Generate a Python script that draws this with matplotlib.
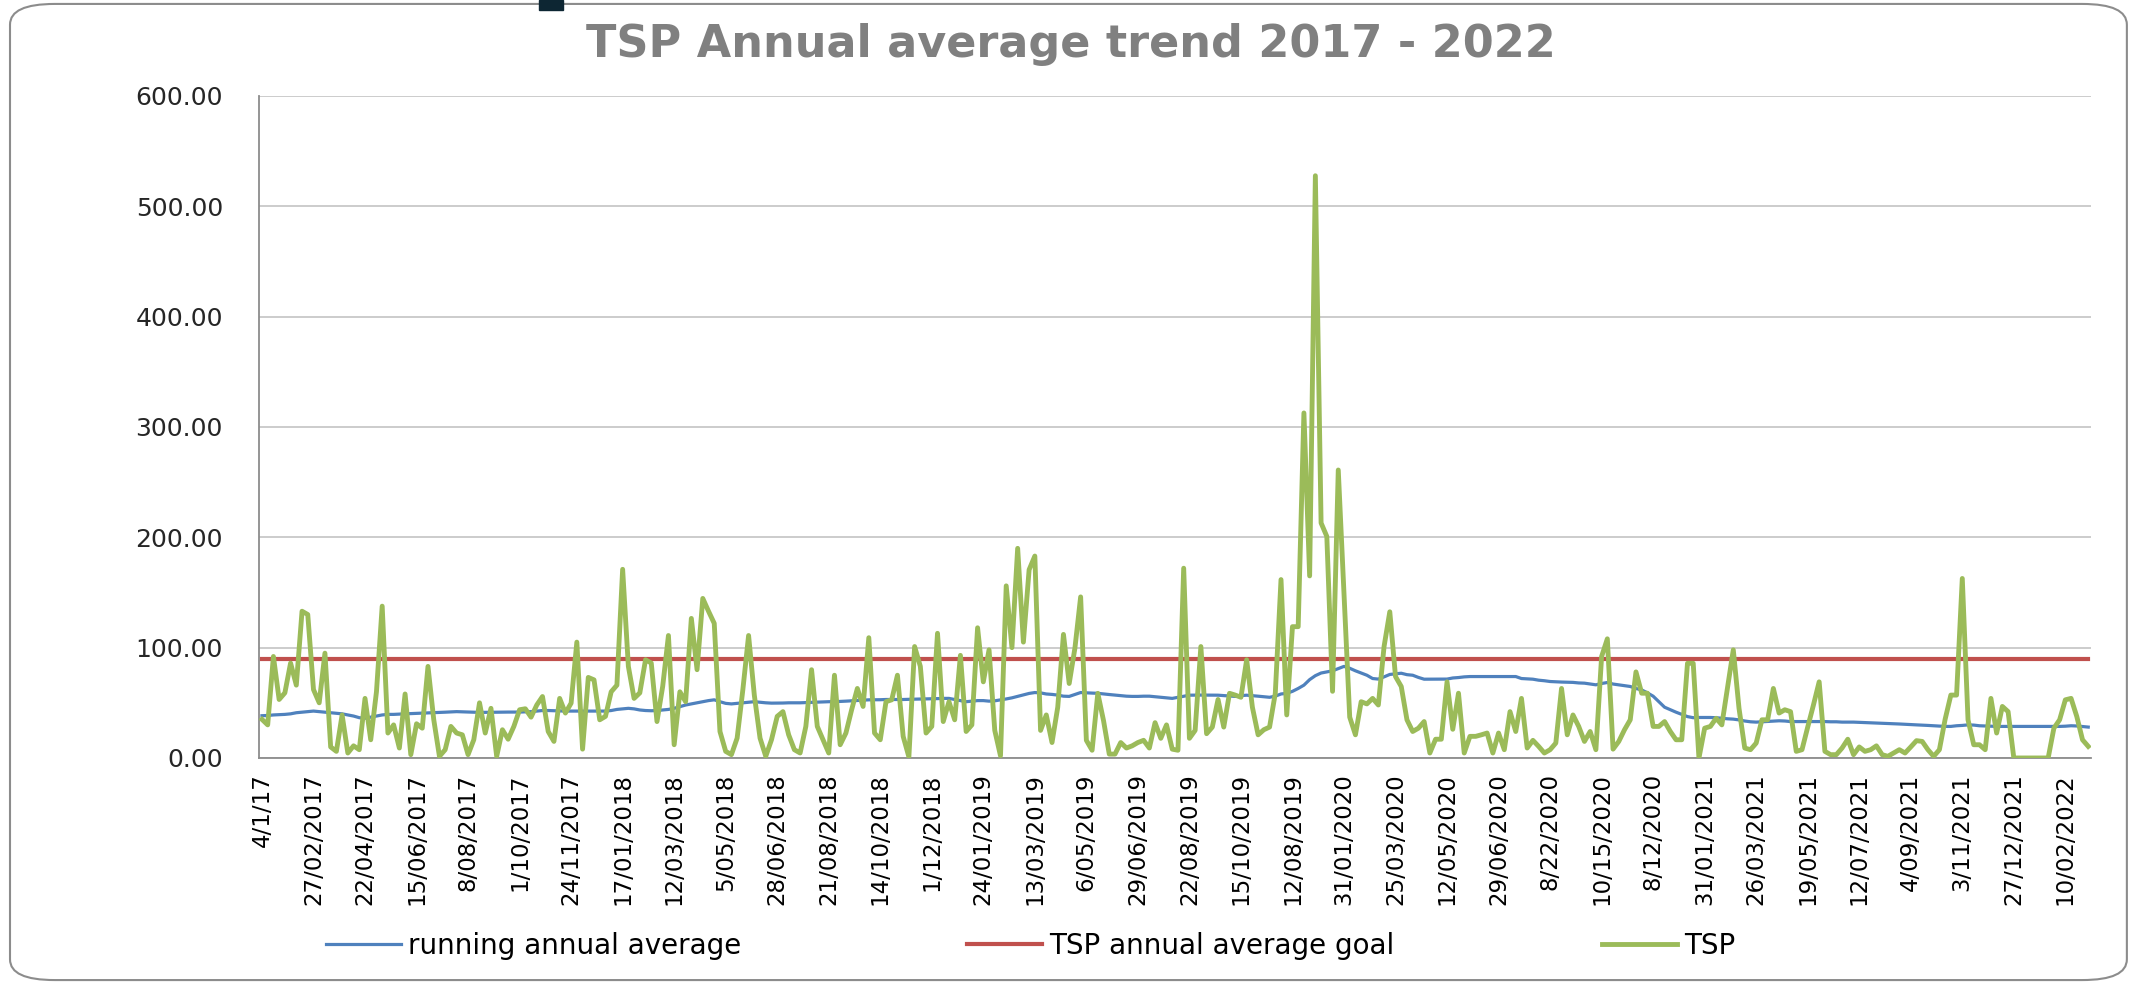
import matplotlib
matplotlib.use("Agg")
import matplotlib.pyplot as plt
from matplotlib import font_manager
from matplotlib.patches import FancyBboxPatch, Rectangle

# TSP readings (one every 6 days)
tsp = [
    35, 30, 92, 53, 59, 86, 66, 133, 130, 62,
    50, 95, 10, 6, 39, 4.5, 11, 7.5, 54, 16.5,
    60, 137.6, 22.6, 30, 9, 58, 3, 31, 27, 83,
    35, 1.5, 7.5, 28.6, 22.6, 21, 3, 16.5, 50, 22.6,
    45, 1.5, 25.6, 17, 28.6, 43.7, 44.6, 37, 48, 55.7,
    24, 15, 54, 40.7, 49.7, 105, 8, 73, 70.8, 34.6,
    37.7, 60, 66, 171, 83, 54, 59, 89, 86, 33,
    65, 111, 12, 60, 51, 126.5, 80, 144.6, 133, 122,
    24, 6, 3, 18, 62, 111, 57, 18, 1.5, 16.5,
    37.7, 42, 21, 7.5, 4.5, 28.6, 80, 28.6, 16.5, 4.5,
    75, 12, 22.6, 43.7, 63, 46.7, 109, 22.6, 16.5, 51,
    52.7, 75, 19.6, 1, 101, 83, 22.6, 28.6, 113, 33,
    51, 34.6, 93, 24, 30, 118, 69, 98, 25, 2,
    156, 100, 190, 105, 170.6, 183, 25, 39, 14, 46,
    112, 67.5, 99.5, 146, 16, 7, 58.6, 33.8, 3.5, 3.5,
    14, 9, 11, 14, 16, 9, 32, 17.8, 30, 8,
    7, 172, 17.8, 25, 101, 22, 28, 53, 28, 58.6,
    57, 55, 89, 46, 21, 25.6, 28, 58.6, 161.7, 39,
    119, 119, 312.7, 165, 527.7, 213, 200.8, 60.4, 261, 150,
    37, 21, 51, 49, 54, 48, 101, 132.5, 73.8, 64.8,
    34.6, 24, 27, 33, 4.5, 17, 17, 69, 26, 58.7,
    4.5, 19.6, 19.6, 21, 22.6, 4.5, 22.6, 7.5, 42, 24,
    54, 9, 16, 10.5, 4.5, 7.5, 13.5, 63, 21, 39,
    28.6, 15, 24, 7.5, 92, 108, 8, 15, 25.6, 34.6,
    78, 58.7, 58.7, 28.6, 28.6, 33, 24, 16.5, 16.5, 85.8,
    85.8, 0, 27, 28.6, 36, 30, 64, 98, 45, 9,
    7.5, 13.5, 34.6, 34.6, 63, 40.7, 43.7, 42, 6, 7.5,
    28, 48, 69, 6, 3, 3, 9, 17, 3, 10,
    6, 7.5, 11, 3, 1.5, 4.5, 7.5, 4.5, 10, 15.7,
    15, 7.5, 1.5, 7.5, 35, 57, 57, 162.7, 34.6, 12,
    12, 7.5, 54, 22.6, 46.7, 42, 0, 0, 0, 0,
    0, 0, 0, 27, 34.6, 52.7, 54, 37.6, 16.5, 10.5,
]

running_avg = [
    38.3, 38.5, 39, 39.2, 39.5, 40, 41, 41.5, 42, 42.5,
    42, 41.5, 41, 40.5, 40, 39, 38, 36.5, 36, 37,
    38, 39, 39.5, 39.5, 39.8, 40, 40.2, 40.5, 40.7, 40.7,
    41, 41.2, 41.5, 41.8, 42, 41.8, 41.5, 41.3, 41.3, 41.3,
    41.4, 41.5, 41.6, 41.6, 41.6, 41.6, 41.8, 42, 42.5, 43,
    43, 42.8, 42.5, 42.5, 42.5, 42.5, 42.5, 42.5, 42.5, 42.5,
    42.5, 43, 44, 44.5, 45, 44.5, 43.5, 43, 42.8, 43,
    43.5, 44, 45, 46.5, 48, 49, 50, 51, 52, 52.7,
    51, 49.5, 49, 49.5, 50, 50.5, 51, 50.5, 50, 49.7,
    49.7, 49.8, 50, 50, 50, 50.2, 50.5, 50.7, 50.8, 51,
    51, 51.2, 51.5, 51.8, 52, 52.3, 52.7, 52.7, 52.8, 53,
    53, 53, 53, 53.2, 53.3, 53.4, 53.5, 53.6, 53.8, 54,
    54, 53, 52, 51, 51.5, 52, 52, 51.5, 51.8, 52.6,
    53.5, 54.5, 55.8, 57, 58.5, 59.3, 59, 58, 57.6, 57,
    56, 55.8, 57.5, 59.3, 59, 58.8, 58.6, 58, 57.5, 57,
    56.5, 56, 55.8, 55.8, 56, 56, 55.5, 55, 54.5, 54,
    55, 56, 56.9, 57, 57, 57, 56.9, 56.9, 56.5, 56,
    55.8, 56.5, 56.9, 56.5, 56, 55.5, 55, 56, 58, 58.6,
    60.4, 63, 66, 71, 74.6, 77, 78, 79, 81, 83,
    81.3, 79, 77, 75, 72, 71.5, 73.5, 75.7, 76.2, 76.8,
    75.5, 75, 73, 71.4, 71.4, 71.4, 71.4, 71.5, 72.5, 72.9,
    73.5, 73.8, 73.8, 73.8, 73.8, 73.8, 73.8, 73.8, 73.8, 73.8,
    72, 71.7, 71.4, 70.5, 70, 69.3, 69, 68.8, 68.7, 68.5,
    68, 67.8, 67, 66.3, 67.5, 68.4, 67, 66.3, 65.5, 64.8,
    63, 61.7, 59, 56, 51, 46, 43.7, 41.5, 39.5, 37.5,
    36.5, 36.7, 36.7, 36.7, 36.5, 36, 35.5, 35.2, 34.5, 33.5,
    32.8, 32.5, 32.8, 33.2, 33.5, 33.7, 33.5, 33, 33, 33,
    33, 33, 33, 33, 32.8, 32.8, 32.5, 32.5, 32.5, 32.3,
    32, 31.8, 31.6, 31.5, 31.2, 31, 30.8, 30.5, 30.2, 30,
    29.8, 29.5, 29.2, 29, 28.6, 28.6, 29.2, 29.5, 30, 29.8,
    29.2, 29, 28.8, 28.6, 28.6, 28.6, 28.6, 28.6, 28.6, 28.6,
    28.6, 28.6, 28.6, 28.6, 28.6, 28.8, 29.2, 29, 28.5, 28,
]

goal = 90.0

# category labels shown on the axis (every 9th sample)
date_labels = [
    "4/1/17", "27/02/2017", "22/04/2017", "15/06/2017", "8/08/2017",
    "1/10/2017", "24/11/2017", "17/01/2018", "12/03/2018", "5/05/2018",
    "28/06/2018", "21/08/2018", "14/10/2018", "1/12/2018", "24/01/2019",
    "13/03/2019", "6/05/2019", "29/06/2019", "22/08/2019", "15/10/2019",
    "12/08/2019", "31/01/2020", "25/03/2020", "12/05/2020", "29/06/2020",
    "8/22/2020", "10/15/2020", "8/12/2020", "31/01/2021", "26/03/2021",
    "19/05/2021", "12/07/2021", "4/09/2021", "3/11/2021", "27/12/2021",
    "10/02/2022",
]
label_step = 9

y_ticks = [0, 100, 200, 300, 400, 500, 600]

installed = {f.name for f in font_manager.fontManager.ttflist}
narrow = "Liberation Sans Narrow" if "Liberation Sans Narrow" in installed else "DejaVu Sans"

n = len(tsp)
x = list(range(n))

fig = plt.figure(figsize=(21.29, 9.84), dpi=100)
ax = fig.add_axes([0.1217, 0.2297, 0.8605, 0.6728])

l_avg, = ax.plot(x, running_avg, color="#4F81BD", lw=2.3, zorder=3)
l_goal, = ax.plot(x, [goal] * n, color="#C0504D", lw=3.0, zorder=3)
l_tsp, = ax.plot(x, tsp, color="#9BBB59", lw=3.5, zorder=4)

ax.set_xlim(-0.5, n - 0.5)
ax.set_ylim(0, 600)
ax.set_yticks(y_ticks)
ax.set_yticklabels(["%.2f" % v for v in y_ticks], fontsize=18, color="#262626")
ax.set_xticks(x[::label_step])
ax.set_xticklabels(date_labels, rotation=90, ha="center", va="top",
                   fontsize=16.5, family=[narrow, "DejaVu Sans"], color="#000000")
ax.tick_params(axis="y", length=0, pad=26)
ax.tick_params(axis="x", length=0, pad=11)

ax.grid(axis="y", color="#C8C8C8", lw=1.3)
ax.set_axisbelow(True)
for side in ("top", "right"):
    ax.spines[side].set_visible(False)
for side in ("left", "bottom"):
    ax.spines[side].set_color("#8C8C8C")
    ax.spines[side].set_linewidth(1.3)

fig.text(0.503, 0.955, "TSP Annual average trend 2017 - 2022", ha="center", va="center",
         fontsize=32, fontweight="bold", color="#808080")

# legend entries spread across the bottom like the original
entries = [(l_avg, "running annual average", 0.1531),
           (l_goal, "TSP annual average goal", 0.4542),
           (l_tsp, "TSP", 0.7525)]
for handle, text, xpos in entries:
    fig.legend([handle], [text], loc="center left", bbox_to_anchor=(xpos, 0.0386),
               frameon=False, fontsize=20, handlelength=2.7, handletextpad=0.25,
               borderpad=0, borderaxespad=0)

# chart-area frame with rounded corners
frame = FancyBboxPatch((0.0047, 0.004), 0.9943, 0.992, transform=fig.transFigure,
                       boxstyle="round,pad=0,rounding_size=0.021",
                       fill=False, ec="#8C8C8C", lw=1.5)
fig.patches.append(frame)
fig.patches.append(Rectangle((0.2532, 0.9898), 0.0113, 0.0102, transform=fig.transFigure,
                             color="#0D2633"))

fig.savefig("out.png", dpi=100)
